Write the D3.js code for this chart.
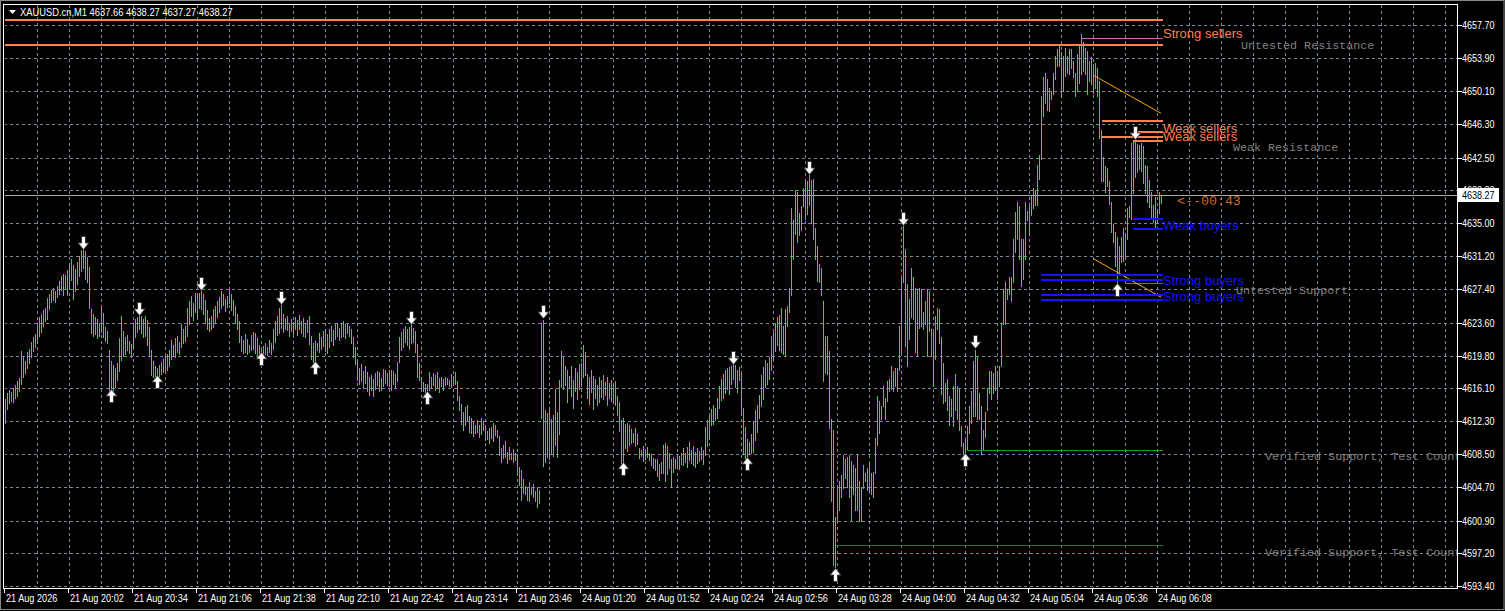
<!DOCTYPE html>
<html><head><meta charset="utf-8">
<script src="https://cdn.jsdelivr.net/npm/d3@7"></script>
<style>
html,body{margin:0;padding:0;background:#000;overflow:hidden;}
svg{display:block;}
.ax{font-family:"Liberation Sans",Arial,sans-serif;font-size:11px;fill:#fff;}
.zl{font-family:"Liberation Sans",Arial,sans-serif;font-size:13px;}
.mono{font-family:"Liberation Mono","Courier New",monospace;}
</style></head><body>
<svg id="c" width="1505" height="611"></svg>
<script>
// ---------------- data ----------------
const symbolTitle = "XAUUSD.cn,M1";
const headerPrices = "4637.66 4638.27 4637.27 4638.27";
const currentPrice = 4638.27;

const barHigh = [
4614.8,4615.5,4615.9,4615.6,4616.1,4616.4,4616.9,4617.2,4620.3,4619.6,
4619.2,4620.2,4620.6,4621.4,4621.9,4622.3,4623.6,4624.2,4624.6,4625.0,
4625.3,4626.4,4626.9,4627.3,4627.5,4627.2,4627.8,4628.4,4628.9,4629.2,
4629.0,4629.6,4630.4,4630.9,4630.2,4629.7,4630.5,4631.2,4631.9,4632.1,
4631.8,4631.1,4630.0,4625.2,4624.6,4624.2,4624.0,4623.5,4625.5,4624.7,
4623.1,4622.6,4620.4,4619.2,4618.7,4618.4,4619.0,4621.8,4624.3,4622.6,
4621.9,4622.2,4621.5,4621.1,4623.5,4624.0,4624.2,4624.6,4624.3,4624.0,
4624.4,4623.9,4623.1,4620.4,4619.2,4618.6,4618.4,4618.7,4619.1,4619.4,
4619.8,4620.0,4620.4,4621.6,4621.0,4621.8,4622.1,4621.4,4623.4,4622.9,
4623.2,4625.3,4626.1,4626.6,4625.8,4627.0,4626.8,4627.0,4627.4,4626.9,
4626.2,4625.0,4624.1,4624.4,4625.2,4625.5,4626.1,4626.5,4627.2,4626.9,
4626.3,4626.6,4627.3,4626.9,4626.2,4625.5,4624.6,4623.8,4622.0,4621.6,
4622.3,4621.7,4621.0,4622.2,4622.5,4622.4,4621.8,4621.0,4620.6,4620.9,
4621.3,4620.8,4621.6,4621.3,4622.9,4623.8,4624.4,4625.3,4625.6,4624.6,
4624.1,4624.3,4623.6,4624.0,4623.7,4624.2,4623.9,4624.5,4623.8,4624.1,
4623.6,4623.9,4624.3,4622.1,4621.2,4621.5,4621.3,4622.4,4621.9,4622.6,
4622.8,4622.3,4622.9,4623.2,4622.7,4623.4,4623.6,4623.0,4623.5,4623.8,
4623.4,4623.6,4623.2,4622.9,4621.9,4620.8,4619.3,4618.4,4618.8,4618.0,
4618.6,4617.9,4617.4,4617.6,4617.1,4617.8,4618.0,4617.9,4617.2,4618.3,
4618.1,4617.8,4618.2,4618.1,4618.0,4617.7,4619.1,4621.9,4622.5,4622.8,
4623.2,4622.9,4623.1,4623.4,4623.0,4622.6,4621.1,4619.0,4617.3,4616.8,
4616.6,4616.6,4617.9,4617.4,4617.8,4617.6,4617.9,4617.2,4617.4,4617.1,
4617.3,4617.2,4617.0,4617.7,4617.5,4617.9,4616.9,4615.2,4614.3,4613.4,
4613.9,4614.1,4612.9,4612.7,4612.2,4611.8,4612.4,4611.9,4612.6,4612.3,
4611.7,4611.2,4611.5,4611.6,4612.1,4611.8,4611.3,4610.6,4609.2,4609.6,
4610.0,4608.8,4609.3,4608.6,4609.1,4608.7,4608.5,4607.0,4606.7,4605.7,
4604.9,4604.6,4605.3,4604.8,4605.1,4604.3,4604.7,4604.4,4623.6,4623.9,
4613.6,4613.2,4613.8,4612.5,4613.0,4616.0,4613.3,4617.0,4620.3,4619.7,
4618.6,4618.2,4617.5,4618.6,4617.0,4618.4,4617.9,4618.8,4619.0,4621.0,
4620.2,4617.7,4617.3,4618.2,4617.5,4617.1,4616.4,4617.3,4617.0,4617.6,
4616.8,4617.4,4616.7,4617.0,4616.5,4616.9,4615.2,4614.5,4612.4,4612.6,
4612.0,4612.1,4611.8,4611.4,4610.9,4611.5,4610.8,4609.2,4609.0,4609.4,
4608.9,4609.3,4608.7,4608.5,4608.1,4607.9,4608.0,4607.4,4607.6,4609.6,
4609.8,4609.5,4608.6,4608.0,4608.2,4607.9,4608.4,4608.3,4608.6,4609.2,
4608.7,4609.3,4609.9,4609.0,4609.4,4608.8,4609.2,4608.9,4609.3,4609.0,
4611.6,4612.4,4612.9,4613.7,4614.2,4613.8,4615.0,4616.3,4617.1,4617.7,
4618.2,4618.4,4618.5,4618.6,4619.2,4618.7,4618.2,4618.5,4617.8,4613.8,
4611.6,4610.3,4609.9,4610.8,4612.3,4613.6,4614.2,4615.3,4617.6,4618.5,
4619.3,4619.0,4619.6,4622.0,4622.5,4623.6,4624.2,4624.5,4625.3,4623.2,
4625.1,4625.5,4627.5,4636.7,4635.3,4638.8,4638.6,4636.1,4636.9,4639.0,
4640.1,4639.8,4640.5,4639.9,4640.0,4634.4,4632.4,4630.3,4629.8,4626.1,
4622.1,4622.1,4620.3,4612.5,4611.3,4601.3,4604.8,4605.4,4606.1,4608.4,
4607.9,4608.2,4608.4,4607.7,4607.3,4606.9,4608.4,4605.4,4604.8,4607.3,
4606.3,4606.9,4607.5,4606.3,4606.5,4610.4,4615.2,4614.6,4614.0,4616.3,
4615.0,4616.9,4617.1,4618.6,4618.0,4618.4,4618.4,4623.2,4628.8,4634.7,
4632.0,4628.0,4626.3,4629.8,4628.8,4627.6,4627.4,4627.6,4627.4,4624.8,
4626.1,4627.4,4627.2,4622.8,4622.5,4624.4,4625.3,4625.1,4621.9,4619.0,
4616.7,4617.1,4615.2,4614.8,4616.3,4617.7,4616.3,4616.1,4611.7,4609.8,
4610.2,4611.7,4614.0,4615.7,4619.2,4620.5,4619.8,4615.5,4614.0,4611.3,
4613.4,4616.1,4618.0,4618.0,4617.8,4618.6,4618.0,4618.6,4623.6,4627.4,
4628.2,4627.4,4628.8,4628.8,4633.2,4636.3,4637.4,4636.9,4633.2,4633.2,
4637.4,4636.4,4637.0,4638.2,4639.0,4638.8,4641.7,4642.8,4649.6,4651.7,
4652.2,4651.5,4650.5,4650.1,4652.2,4654.2,4654.9,4655.3,4654.6,4654.2,
4655.1,4654.2,4654.9,4654.9,4653.6,4652.2,4654.4,4655.5,4656.7,4655.7,
4655.1,4654.7,4653.6,4654.0,4653.2,4653.4,4652.8,4651.3,4645.7,4642.6,
4641.5,4641.3,4639.8,4637.4,4634.9,4634.0,4633.4,4632.4,4633.4,4634.4,
4633.8,4636.7,4636.9,4644.2,4644.3,4644.6,4644.1,4643.9,4644.2,4643.8,
4641.7,4641.5,4639.9,4638.6,4637.1,4638.0,4636.6,4638.6,4638.27
];
const barLow = [
4612.1,4613.7,4614.4,4614.6,4614.5,4615.0,4615.2,4615.8,4616.6,4617.4,
4617.8,4618.4,4619.0,4619.7,4620.3,4620.8,4621.3,4622.0,4622.5,4623.2,
4623.8,4624.0,4625.2,4625.9,4626.2,4626.0,4626.5,4626.9,4627.3,4626.8,
4627.5,4626.7,4627.6,4628.5,4626.3,4627.2,4628.0,4628.9,4629.5,4629.8,
4628.6,4628.2,4625.3,4622.4,4622.0,4622.3,4621.8,4622.1,4622.5,4621.9,
4621.5,4621.2,4615.5,4615.2,4615.7,4616.2,4617.0,4618.0,4619.3,4619.8,
4620.0,4620.4,4620.1,4619.6,4620.8,4621.9,4622.5,4622.8,4622.4,4621.9,
4622.0,4621.0,4619.8,4617.6,4617.4,4617.5,4617.2,4617.5,4617.7,4617.9,
4618.0,4618.1,4618.6,4619.4,4619.8,4619.7,4620.2,4620.0,4620.8,4621.3,
4621.5,4622.0,4623.4,4624.3,4623.9,4624.8,4624.2,4625.3,4625.1,4624.6,
4623.5,4622.9,4622.6,4622.8,4623.1,4623.6,4624.2,4624.8,4625.3,4625.6,
4624.9,4625.4,4625.8,4625.0,4624.5,4623.5,4622.8,4621.4,4620.3,4620.1,
4620.2,4620.0,4620.2,4620.4,4620.6,4620.1,4619.9,4619.8,4619.6,4619.9,
4620.0,4619.9,4620.2,4620.0,4620.6,4621.4,4622.2,4622.4,4623.0,4622.5,
4622.9,4622.7,4622.0,4622.6,4622.3,4622.8,4622.2,4622.9,4622.4,4622.0,
4621.9,4622.5,4621.1,4619.4,4619.1,4618.9,4620.4,4620.2,4620.6,4620.9,
4620.3,4620.1,4620.8,4621.5,4621.0,4621.7,4622.0,4621.6,4621.9,4622.1,
4621.8,4622.4,4622.0,4621.3,4619.7,4618.9,4617.0,4616.5,4616.9,4616.1,
4616.7,4615.8,4615.3,4615.9,4615.2,4616.0,4616.4,4615.7,4615.9,4616.3,
4616.7,4616.4,4616.3,4615.9,4616.6,4616.1,4616.9,4619.1,4620.4,4620.8,
4621.4,4621.0,4620.6,4621.2,4621.4,4620.2,4617.3,4617.0,4615.9,4615.7,
4615.6,4615.4,4615.9,4616.2,4616.4,4615.9,4616.1,4615.6,4616.3,4615.9,
4616.4,4616.5,4616.3,4616.2,4616.7,4616.5,4614.7,4613.6,4612.0,4611.3,
4611.8,4612.4,4611.0,4610.9,4610.6,4610.9,4611.1,4610.5,4610.8,4611.3,
4610.1,4610.2,4609.8,4610.4,4610.0,4610.7,4610.5,4608.4,4607.6,4608.1,
4608.2,4607.5,4607.9,4607.9,4607.6,4607.8,4606.5,4605.0,4603.2,4604.1,
4603.9,4603.3,4603.1,4603.9,4603.6,4603.1,4602.5,4602.9,4612.6,4607.2,
4607.6,4608.2,4607.9,4608.5,4608.3,4609.6,4608.2,4610.8,4616.2,4616.0,
4616.4,4614.5,4616.1,4615.2,4613.8,4615.7,4614.8,4616.0,4616.3,4617.4,
4617.6,4615.0,4614.3,4615.6,4613.7,4614.9,4614.2,4614.5,4615.1,4614.8,
4615.3,4614.1,4615.0,4614.6,4614.4,4614.2,4613.0,4611.2,4607.5,4607.3,
4609.2,4608.9,4609.6,4609.8,4609.9,4609.4,4609.7,4608.1,4608.3,4607.7,
4608.0,4608.2,4607.8,4607.3,4606.9,4606.7,4606.0,4605.6,4606.4,4606.3,
4605.4,4606.2,4606.9,4604.8,4606.5,4606.9,4607.1,4606.8,4607.4,4607.3,
4607.6,4607.0,4607.8,4607.5,4607.3,4607.0,4607.5,4607.7,4607.9,4607.4,
4608.4,4609.5,4610.3,4611.8,4612.0,4612.4,4612.6,4613.8,4614.7,4615.0,
4615.5,4616.0,4615.4,4616.6,4617.1,4616.2,4615.6,4617.0,4613.2,4608.5,
4608.0,4607.7,4608.5,4608.6,4608.8,4610.1,4611.0,4612.6,4614.0,4614.8,
4616.2,4616.5,4617.1,4618.1,4619.4,4620.3,4621.0,4620.5,4620.2,4620.0,
4619.8,4623.2,4624.8,4626.7,4630.9,4633.8,4632.8,4633.6,4634.2,4637.0,
4635.5,4636.0,4637.1,4635.0,4633.2,4630.9,4628.4,4628.2,4626.7,4616.9,
4617.8,4617.7,4611.5,4603.1,4595.8,4595.6,4601.0,4602.1,4603.6,4604.6,
4605.8,4604.8,4603.6,4601.0,4604.0,4602.1,4602.1,4600.8,4600.8,4604.6,
4605.4,4604.4,4604.2,4604.0,4603.6,4606.3,4609.6,4610.9,4612.5,4614.0,
4612.5,4614.6,4615.7,4616.0,4615.7,4616.3,4615.7,4618.2,4620.2,4628.2,
4620.9,4618.6,4621.7,4624.2,4624.0,4620.2,4619.8,4623.0,4623.2,4622.8,
4623.4,4619.8,4622.6,4619.8,4616.3,4619.4,4622.8,4621.3,4615.4,4614.4,
4614.6,4613.6,4611.9,4612.9,4611.7,4613.6,4612.5,4611.3,4609.4,4608.4,
4608.3,4609.0,4610.9,4612.1,4612.9,4612.9,4612.5,4612.5,4608.5,4609.0,
4610.5,4613.6,4615.5,4614.8,4615.5,4615.9,4614.8,4616.3,4618.6,4623.4,
4623.4,4626.3,4626.9,4626.1,4628.2,4631.7,4633.2,4630.9,4627.8,4628.6,
4630.9,4635.3,4633.6,4635.9,4636.7,4637.1,4637.1,4640.0,4642.3,4647.3,
4648.8,4648.0,4647.8,4649.2,4649.8,4651.5,4653.0,4653.0,4649.4,4650.1,
4651.9,4652.2,4652.1,4652.8,4651.7,4649.6,4650.1,4651.1,4652.1,4652.4,
4652.1,4649.8,4651.3,4650.9,4649.9,4650.5,4649.6,4644.8,4639.8,4639.8,
4638.6,4639.2,4637.2,4634.0,4632.8,4630.1,4627.8,4629.0,4630.5,4630.7,
4630.9,4633.2,4635.7,4635.5,4638.4,4640.3,4640.9,4641.2,4641.0,4639.6,
4638.5,4637.4,4636.8,4635.7,4635.1,4634.6,4635.3,4636.1,4637.27
];

const timeLabels = ["21 Aug 2026","21 Aug 20:02","21 Aug 20:34","21 Aug 21:06","21 Aug 21:38",
  "21 Aug 22:10","21 Aug 22:42","21 Aug 23:14","21 Aug 23:46","24 Aug 01:20","24 Aug 01:52",
  "24 Aug 02:24","24 Aug 02:56","24 Aug 03:28","24 Aug 04:00","24 Aug 04:32","24 Aug 05:04",
  "24 Aug 05:36","24 Aug 06:08"];
const barsPerLabel = 32;
const barsPerGrid = 16;

const priceTicks = [4657.70,4653.90,4650.10,4646.30,4642.50,4638.80,4635.00,4631.20,4627.40,
  4623.60,4619.80,4616.10,4612.30,4608.50,4604.70,4600.90,4597.20,4593.40];

// fractal arrows: [bar index, price]
const fractalDown = [[39,4632.68],[67,4625.15],[98,4628.02],[138,4626.38],[203,4624.09],
  [269,4624.84],[364,4619.50],[402,4641.28],[449,4635.43],[485,4621.34],[565,4645.32]];
const fractalUp = [[53,4615.22],[76,4616.75],[128,4619.39],[155,4618.39],[211,4614.92],
  [309,4606.82],[371,4607.39],[415,4594.67],[480,4607.85],[556,4627.33]];

// supply / demand zones: kind, upper price, lower price, start bar
const zoneKind  = ["strongSell","weakSell","weakSell","weakBuy","strongBuy","strongBuy"];
const zoneHigh  = [4658.27,4646.73,4645.44,4635.41,4629.08,4626.72];
const zoneLow   = [4655.44,4644.90,4644.41,4634.36,4628.51,4626.15];
const zoneStart = [-0.6,548.5,564,564,518,518];
const zoneEnd = 578.5;

const zoneLabelText  = ["Strong sellers","Weak sellers","Weak sellers","Weak buyers","Strong buyers","Strong buyers"];
const zoneLabelPrice = [4656.73,4645.84,4644.90,4634.75,4628.40,4626.56];

// single level lines: kind, price, start bar
const levelKind  = ["violet","touch","verified","verified2"];
const levelPrice = [4656.21,4628.13,4608.96,4598.05];
const levelStart = [538.5,560,481,415.3];

// trend lines: [bar1, price1, bar2, price2]
const trendLines = [[544,4651.97,578,4647.58],[544,4630.94,578,4626.50]];

// gray zone notes
const noteText  = ["Untested Resistance","Weak Resistance","Untested Support","Verified Support, Test Count","Verified Support, Test Count"];
const noteBar   = [618,614,615.5,630,630];
const notePrice = [4655.33,4643.60,4627.20,4608.13,4597.22];

const countdownText = "<--00:43";
const countdownBar = 586;
const countdownPrice = 4637.47;

// ---------------- drawing ----------------
const W = 1505, H = 611;
const P = {left:4, top:5, right:1457, bottom:588};
const lastBar = barHigh.length - 1;
const x = d3.scaleLinear().domain([0, lastBar]).range([5, 5 + 2*lastBar]);
const y = d3.scaleLinear().domain([4593.4, 4657.7]).range([586, 25]);
const px = v => Math.round(x(v)) + 0.5;
const py = v => Math.round(y(v)) + 0.5;

// squeeze Liberation Sans to the narrow width of the terminal font
function narrow(sel, f) {
  sel.each(function () {
    const w = this.getComputedTextLength();
    this.setAttribute("textLength", (w * f).toFixed(1));
    this.setAttribute("lengthAdjust", "spacingAndGlyphs");
  });
}

const svg = d3.select("#c");
svg.append("rect").attr("width", W).attr("height", H).attr("fill", "#000");
svg.append("defs").append("clipPath").attr("id", "pc")
  .append("rect").attr("x", P.left + 1).attr("y", P.top).attr("width", P.right - P.left - 1).attr("height", P.bottom - P.top);

const plot = svg.append("g").attr("clip-path", "url(#pc)");

// grid
const gridColor = "#778899";
plot.append("g").selectAll("line").data(priceTicks).join("line")
  .attr("x1", P.left).attr("x2", P.right).attr("y1", d => py(d)).attr("y2", d => py(d))
  .attr("stroke", gridColor).attr("stroke-dasharray", "3,3").attr("shape-rendering", "crispEdges");
const vGrid = d3.range(barsPerGrid, 1000, barsPerGrid).filter(i => x(i) < P.right - 2);
plot.append("g").selectAll("line").data(vGrid).join("line")
  .attr("x1", d => px(d)).attr("x2", d => px(d)).attr("y1", P.top).attr("y2", P.bottom)
  .attr("stroke", gridColor).attr("stroke-dasharray", "3,3").attr("shape-rendering", "crispEdges");

// current price line
plot.append("line").attr("x1", P.left).attr("x2", P.right)
  .attr("y1", py(currentPrice)).attr("y2", py(currentPrice))
  .attr("stroke", "#a9a9a9").attr("shape-rendering", "crispEdges");

// bars
plot.append("g").selectAll("line").data(d3.range(barHigh.length)).join("line")
  .attr("x1", i => px(i)).attr("x2", i => px(i))
  .attr("y1", i => Math.round(y(barHigh[i])))
  .attr("y2", i => Math.max(Math.round(y(barLow[i])), Math.round(y(barHigh[i])) + 1) + 1)
  .attr("stroke", "#2fe02f").attr("stroke-width", 1).attr("shape-rendering", "crispEdges");

// level lines
const levelColor = {violet:"#d760d7", touch:"#5a7a5a", verified:"#129a12", verified2:"#1e7d1e"};
plot.append("g").selectAll("line").data(levelKind).join("line")
  .attr("x1", (d, i) => x(levelStart[i])).attr("x2", x(zoneEnd) + 1)
  .attr("y1", (d, i) => py(levelPrice[i])).attr("y2", (d, i) => py(levelPrice[i]))
  .attr("stroke", d => levelColor[d]).attr("shape-rendering", "crispEdges");

// trend lines
plot.append("g").selectAll("line").data(trendLines).join("line")
  .attr("x1", d => x(d[0])).attr("y1", d => y(d[1])).attr("x2", d => x(d[2])).attr("y2", d => y(d[3]))
  .attr("stroke", "#ffa500").attr("stroke-width", 1);

// zones
const zoneColor = {strongSell:"#ff7f50", weakSell:"#ff7f50", weakBuy:"#1414ff", strongBuy:"#1414ff"};
const zg = plot.append("g");
zoneKind.forEach((k, i) => {
  [zoneHigh[i], zoneLow[i]].forEach(p => {
    zg.append("rect").attr("x", Math.round(x(zoneStart[i]))).attr("y", Math.round(y(p)) - 1)
      .attr("width", Math.round(x(zoneEnd)) + 1 - Math.round(x(zoneStart[i]))).attr("height", 2)
      .attr("fill", zoneColor[k]);
  });
});

// arrows
function arrowPath(cx, cy, dir) {
  const s = dir; // 1 = down, -1 = up
  const pts = [[-2,-6.5],[2,-6.5],[2,0],[5.5,0],[0,6.5],[-5.5,0],[-2,0]];
  return "M" + pts.map(p => [cx + p[0], cy + s * p[1]].join(",")).join("L") + "Z";
}
const ag = plot.append("g");
ag.selectAll("path.dn").data(fractalDown).join("path").attr("class", "dn")
  .attr("d", d => arrowPath(Math.round(x(d[0])) + 0.5, Math.round(y(d[1])), 1))
  .attr("fill", "#fff").attr("stroke", "#3a3a3a").attr("stroke-width", 1);
ag.selectAll("path.up").data(fractalUp).join("path").attr("class", "up")
  .attr("d", d => arrowPath(Math.round(x(d[0])) + 0.5, Math.round(y(d[1])), -1))
  .attr("fill", "#fff").attr("stroke", "#3a3a3a").attr("stroke-width", 1);

// zone labels
plot.append("g").selectAll("text").data(zoneLabelText).join("text")
  .attr("class", "zl").attr("x", x(lastBar + 1)).attr("y", (d, i) => y(zoneLabelPrice[i]))
  .attr("dominant-baseline", "central")
  .attr("fill", (d, i) => zoneColor[zoneKind[i]]).text(d => d);

// gray notes
plot.append("g").selectAll("text").data(noteText).join("text")
  .attr("class", "mono").attr("font-size", "11.7px")
  .attr("x", (d, i) => x(noteBar[i])).attr("y", (d, i) => y(notePrice[i]))
  .attr("dominant-baseline", "central").attr("fill", "#808080").text(d => d);

// countdown
plot.append("text").attr("class", "mono").attr("font-size", "13.3px")
  .attr("x", x(countdownBar)).attr("y", y(countdownPrice)).attr("dominant-baseline", "central")
  .attr("fill", "#d2691e").text(countdownText);

// header
svg.append("path").attr("d", "M9,10L16,10L12.5,14Z").attr("fill", "#fff");
const hdr = svg.append("text").attr("class", "ax").attr("x", 20).attr("y", 16)
  .text(symbolTitle + "  " + headerPrices);
narrow(hdr, 0.85);

// frames
svg.append("rect").attr("x", 0.5).attr("y", 0.5).attr("width", W - 1.5).attr("height", H - 2)
  .attr("fill", "none").attr("stroke", "#8a8a8a");
svg.append("rect").attr("x", P.left - 0.5).attr("y", P.top - 0.5)
  .attr("width", P.right - P.left + 1).attr("height", P.bottom - P.top + 1)
  .attr("fill", "none").attr("stroke", "#ffffff").attr("shape-rendering", "crispEdges");

// right price axis
const ra = svg.append("g");
ra.selectAll("line").data(priceTicks).join("line")
  .attr("x1", P.right + 0.5).attr("x2", P.right + 4.5).attr("y1", d => py(d)).attr("y2", d => py(d))
  .attr("stroke", "#fff").attr("shape-rendering", "crispEdges");
const pt = ra.selectAll("text").data(priceTicks).join("text").attr("class", "ax")
  .attr("x", P.right + 5).attr("y", d => y(d)).attr("dominant-baseline", "central")
  .text(d => d3.format(".2f")(d));
narrow(pt, 0.82);
// current price box
ra.append("rect").attr("x", P.right + 1).attr("y", Math.round(y(currentPrice)) - 7)
  .attr("width", 41).attr("height", 14).attr("fill", "#fff");
const cp = ra.append("text").attr("class", "ax").attr("x", P.right + 5).attr("y", y(currentPrice))
  .attr("dominant-baseline", "central").style("fill", "#000")
  .text(d3.format(".2f")(currentPrice));
narrow(cp, 0.82);

// bottom time axis
const ba = svg.append("g");
ba.selectAll("line").data(timeLabels).join("line")
  .attr("x1", (d, i) => px(i * barsPerLabel) - 1).attr("x2", (d, i) => px(i * barsPerLabel) - 1)
  .attr("y1", P.bottom).attr("y2", P.bottom + 5)
  .attr("stroke", "#fff").attr("shape-rendering", "crispEdges");
const tl = ba.selectAll("text").data(timeLabels).join("text").attr("class", "ax")
  .attr("x", (d, i) => x(i * barsPerLabel) + 1).attr("y", P.bottom + 10)
  .attr("dominant-baseline", "central").text(d => d);
narrow(tl, 0.83);
</script>
</body></html>
